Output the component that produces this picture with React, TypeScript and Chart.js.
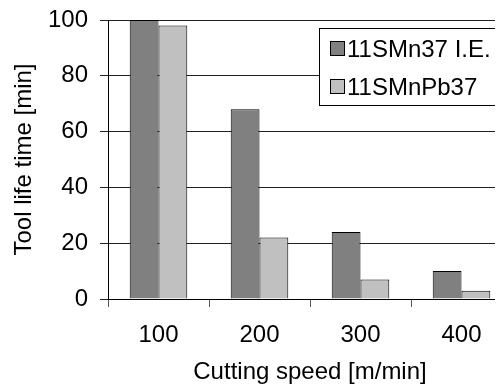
import React, { useEffect, useRef } from "react";
import { Chart, registerables } from "chart.js";

Chart.register(...registerables);

const categories = ["100", "200", "300", "400"];
const seriesNames = ["11SMn37 I.E.", "11SMnPb37"];
const series1 = [100, 68, 24, 10];
const series2 = [98, 22, 7, 3];
const yTicks = [0, 20, 40, 60, 80, 100];
const colors = ["#808080", "#C0C0C0"];

const FONT = "'Liberation Sans', Arial, sans-serif";
const FS = 24;

const legendPlugin = {
  id: "boxLegend",
  afterDatasetsDraw(chart: any) {
    const ctx = chart.ctx;
    ctx.save();
    const x0 = 311.5;
    const y0 = 20.5;
    const x1 = 508.5;
    const y1 = 97.5;
    ctx.fillStyle = "#fff";
    ctx.fillRect(x0, y0, x1 - x0, y1 - y0);
    ctx.strokeStyle = "#000";
    ctx.lineWidth = 1;
    ctx.strokeRect(x0, y0, x1 - x0, y1 - y0);
    const rows = [41, 79];
    ctx.font = `${FS}px ${FONT}`;
    ctx.textBaseline = "middle";
    ctx.textAlign = "left";
    seriesNames.forEach((name, i) => {
      const cy = rows[i];
      ctx.fillStyle = colors[i];
      ctx.fillRect(322.5, cy - 7.5, 14, 14);
      ctx.strokeStyle = "#000";
      ctx.strokeRect(322.5, cy - 7.5, 14, 14);
      ctx.fillStyle = "#000";
      ctx.fillText(name, 339, cy + 1);
    });
    ctx.restore();
  },
};

export default function App() {
  const ref = useRef<HTMLCanvasElement>(null);
  useEffect(() => {
    if (!ref.current) return;
    const chart = new Chart(ref.current, {
      type: "bar",
      data: {
        labels: categories,
        datasets: [
          {
            label: seriesNames[0],
            data: series1,
            backgroundColor: colors[0],
            borderColor: "#000",
            borderWidth: 1,
            categoryPercentage: 0.57,
            barPercentage: 1,
          },
          {
            label: seriesNames[1],
            data: series2,
            backgroundColor: colors[1],
            borderColor: "#000",
            borderWidth: 1,
            categoryPercentage: 0.57,
            barPercentage: 1,
          },
        ],
      },
      options: {
        responsive: false,
        animation: false,
        layout: { padding: { left: 0, top: 12, right: 16, bottom: 0 } },
        plugins: {
          legend: { display: false },
          tooltip: { enabled: false },
        },
        scales: {
          x: {
            offset: true,
            grid: {
              offset: true,
              drawOnChartArea: false,
              drawTicks: true,
              tickLength: 8,
              color: "#555",
            },
            border: { display: true, color: "#000" },
            ticks: {
              color: "#000",
              font: { family: FONT, size: FS },
              padding: 14,
              maxRotation: 0,
            },
            title: {
              display: true,
              text: "Cutting speed [m/min]",
              color: "#000",
              font: { family: FONT, size: FS },
              padding: { top: 0, bottom: 2 },
            },
            afterFit(scale: any) {
              scale.height = 90;
              scale.paddingLeft = 0;
              scale.paddingRight = 0;
            },
          },
          y: {
            min: 0,
            max: 100,
            afterBuildTicks(scale: any) {
              scale.ticks = yTicks.map((v) => ({ value: v }));
            },
            grid: {
              color: "#222",
              tickLength: 8,
              drawTicks: true,
            },
            border: { display: true, color: "#000" },
            ticks: {
              color: "#000",
              font: { family: FONT, size: FS },
              padding: 12,
            },
            title: {
              display: true,
              text: "Tool life time [min]",
              color: "#000",
              font: { family: FONT, size: FS },
              padding: { top: 2, bottom: 0 },
            },
            afterFit(scale: any) {
              scale.width = 100;
              scale.paddingTop = 0;
              scale.paddingBottom = 0;
            },
          },
        },
      },
      plugins: [legendPlugin],
    });
    return () => chart.destroy();
  }, []);
  return (
    <div style={{ width: 495, height: 381, overflow: "hidden" }}>
      <canvas ref={ref} width={520} height={381} style={{ display: "block" }} />
    </div>
  );
}
